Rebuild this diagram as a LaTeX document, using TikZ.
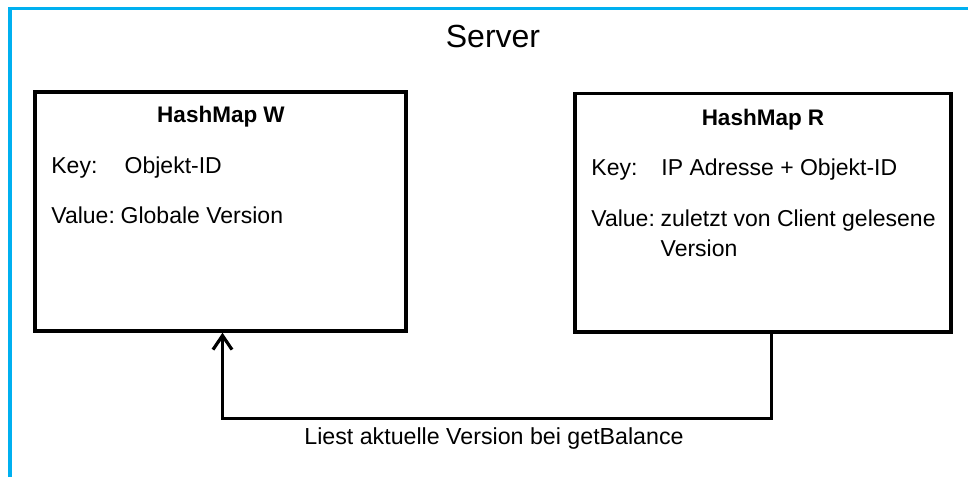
\documentclass[tikz,border=0pt]{standalone}
\usepackage{fontspec}
\setmainfont{Liberation Sans}
\usetikzlibrary{arrows.meta}
\definecolor{framecyan}{RGB}{0,176,240}
\begin{document}
\begin{tikzpicture}[x=1pt,y=-1pt,
  mapbox/.style={draw, line width=3.5pt, inner sep=0pt},
  txt/.style={inner sep=0pt, anchor=base west, font=\fontsize{23}{27}\selectfont},
  mapname/.style={inner sep=0pt, anchor=base, font=\fontsize{22.5}{27}\selectfont\bfseries},
  conn/.style={draw, line width=3pt, line join=miter}]
\useasboundingbox (0,0) rectangle (968,477);

% open frame of the server area
\draw[framecyan, line width=3.5pt] (10,477) -- (10,8.7) -- (968,8.7);
\node[inner sep=0pt, anchor=base, font=\fontsize{32}{38}\selectfont] (server) at (493,47) {Server};

% the two hash maps
\node[mapbox, minimum width=371pt, minimum height=239pt] (W) at (220.5,211.5) {};
\node[mapbox, minimum width=376pt, minimum height=238.5pt] (R) at (763,212.75) {};

% contents of HashMap W
\node[mapname] (wname) at (221,122) {HashMap W};
\node[txt] (wkey) at (51.2,173) {Key:};
\node[txt] (wkeyval) at (124.5,173) {Objekt-ID};
\node[txt] (wval) at (51.2,223) {Value:};
\node[txt] (wvalval) at (120.5,223) {Globale Version};

% contents of HashMap R
\node[mapname] (rname) at (763,125) {HashMap R};
\node[txt] (rkey) at (591.2,175) {Key:};
\node[txt] (rkeyval) at (661.2,175) {IP Adresse + Objekt-ID};
\node[txt] (rval) at (591.2,226.7) {Value:};
\node[txt] (rvalval) at (660.5,226.7) {zuletzt von Client gelesene};
\node[txt] (rvalval2) at (660.5,256.7) {Version};

% read connection from R back to W
\draw[conn, -{Straight Barb[length=14pt,width=19pt,line width=3.2pt]}]
  ([xshift=8.3pt]R.south) -- ++(0,84.5) -| ([xshift=2pt]W.south);
\node[inner sep=0pt, anchor=base, font=\fontsize{23.2}{27}\selectfont] (lbl) at (494,444) {Liest aktuelle Version bei getBalance};
\end{tikzpicture}
\end{document}
